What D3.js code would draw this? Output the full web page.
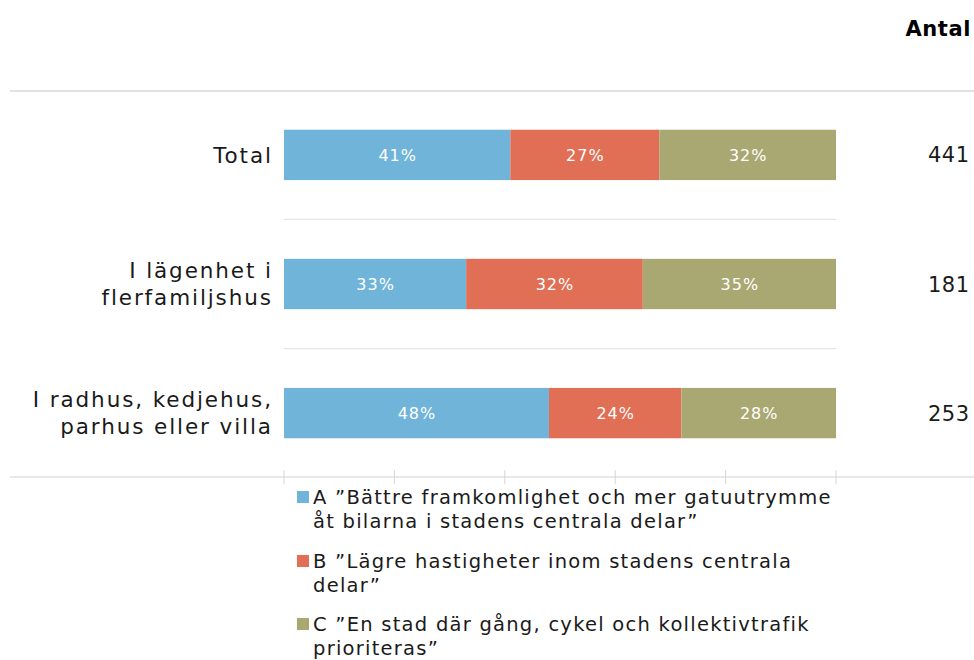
<!DOCTYPE html>
<html><head><meta charset="utf-8">
<script src="https://cdn.jsdelivr.net/npm/d3@7"></script>
<style>body{margin:0;background:#fff}svg{display:block}text{font-family:"DejaVu Sans",sans-serif}</style>
</head><body>
<svg id="c" width="974" height="660"></svg>
<script>
const categories = [["Total"], ["I lägenhet i", "flerfamiljshus"], ["I radhus, kedjehus,", "parhus eller villa"]];
const seriesA = [41, 33, 48];
const seriesB = [27, 32, 24];
const seriesC = [32, 35, 28];
const counts = [441, 181, 253];
const seriesNames = [
  ["A \u201dBättre framkomlighet och mer gatuutrymme", "åt bilarna i stadens centrala delar\u201d"],
  ["B \u201dLägre hastigheter inom stadens centrala", "delar\u201d"],
  ["C \u201dEn stad där gång, cykel och kollektivtrafik", "prioriteras\u201d"]
];
const colors = ["#70B4DA", "#E06F55", "#AAA872"];
const tickValues = [0, 20, 40, 60, 80, 100];

const svg = d3.select("#c");
const x = d3.scaleLinear().domain([0, 100]).range([284, 836]);
const y = d3.scaleBand().domain(d3.range(categories.length)).range([91, 477]).paddingInner(0.61).paddingOuter(0.3);

const stackData = categories.map((c, i) => ({i, A: seriesA[i], B: seriesB[i], C: seriesC[i]}));
const stacked = d3.stack().keys(["A", "B", "C"])(stackData);

// grid/separator lines
svg.append("line").attr("x1", 10).attr("x2", 974).attr("y1", 91).attr("y2", 91).attr("stroke", "#e2e2e2").attr("stroke-width", 2);
svg.append("line").attr("x1", 10).attr("x2", 974).attr("y1", 477).attr("y2", 477).attr("stroke", "#e0e0e0").attr("stroke-width", 1.5);
for (let i = 1; i < categories.length; i++) {
  const yy = (y(i - 1) + y.bandwidth() + y(i)) / 2;
  svg.append("line").attr("x1", x(0)).attr("x2", x(100)).attr("y1", yy).attr("y2", yy).attr("stroke", "#e6e6e6").attr("stroke-width", 1.2);
}
// ticks
svg.selectAll(".tk").data(tickValues).join("line").attr("class", "tk")
  .attr("x1", d => x(d)).attr("x2", d => x(d)).attr("y1", 470).attr("y2", 484)
  .attr("stroke", "#d6d6d6").attr("stroke-width", 1);

// bars
stacked.forEach((s, k) => {
  const g = svg.append("g");
  g.selectAll("rect").data(s).join("rect")
    .attr("x", d => x(d[0])).attr("width", d => x(d[1]) - x(d[0]))
    .attr("y", d => y(d.data.i)).attr("height", y.bandwidth())
    .attr("fill", colors[k]);
  g.selectAll("text").data(s).join("text")
    .attr("x", d => (x(d[0]) + x(d[1])) / 2 + 0.5).attr("y", d => y(d.data.i) + y.bandwidth() / 2)
    .attr("dy", "0.36em").attr("text-anchor", "middle").attr("fill", "#fff")
    .attr("font-size", 16).attr("letter-spacing", 1).text(d => (d[1] - d[0]) + "%");
});

// category labels
categories.forEach((lines, i) => {
  const cy = y(i) + y.bandwidth() / 2;
  const t = svg.append("text").attr("text-anchor", "end").attr("font-size", 21.5)
    .attr("letter-spacing", 1.9).attr("fill", "#1a1a1a");
  lines.forEach((l, j) => {
    t.append("tspan").attr("x", 272.9).attr("y", cy + (j - (lines.length - 1) / 2) * 27).attr("dy", "0.36em").text(l);
  });
});
// counts
svg.selectAll(".cnt").data(counts).join("text").attr("class", "cnt")
  .attr("x", 969.5).attr("y", (d, i) => y(i) + y.bandwidth() / 2).attr("dy", "0.36em")
  .attr("text-anchor", "end").attr("font-size", 21).attr("letter-spacing", 0.5).attr("fill", "#1a1a1a").text(d => d);
svg.append("text").attr("x", 971).attr("y", 28).attr("dy", "0.36em").attr("text-anchor", "end")
  .attr("font-size", 21).attr("letter-spacing", 0.6).attr("font-weight", "bold").attr("fill", "#000").text("Antal");

// legend
const legY = [497, 561, 624];
seriesNames.forEach((lines, k) => {
  svg.append("rect").attr("x", 297).attr("y", legY[k] - 6).attr("width", 12).attr("height", 12).attr("fill", colors[k]);
  const t = svg.append("text").attr("font-size", 19.5).attr("letter-spacing", 1.25).attr("fill", "#1a1a1a");
  lines.forEach((l, j) => {
    t.append("tspan").attr("x", 313).attr("y", legY[k] + j * 23.5).attr("dy", "0.36em").text(l);
  });
});
</script>
</body></html>
